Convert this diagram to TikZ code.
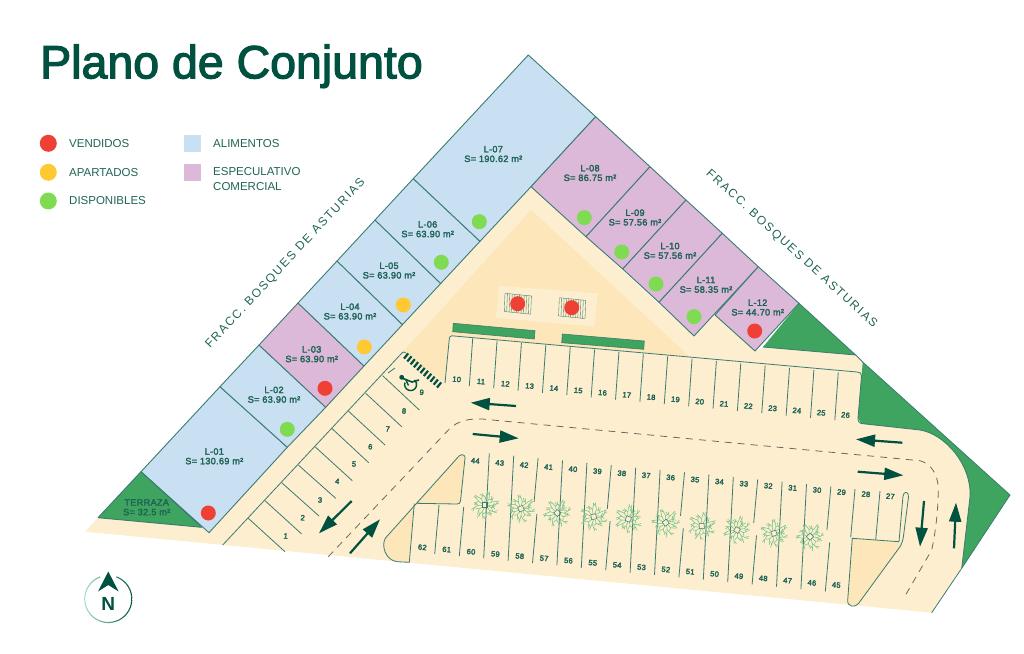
\documentclass[tikz,border=0pt]{standalone}
\usepackage{fontspec}
\usetikzlibrary{arrows.meta}
\setmainfont{Liberation Sans}
\newfontfamily\titlefont[FakeBold=2.6]{Liberation Sans}
\newfontfamily\lotfont[FakeBold=2.6,LetterSpace=3]{Liberation Sans}
\newfontfamily\numfont[FakeBold=3,LetterSpace=3]{Liberation Sans}
\newfontfamily\spacedfont[LetterSpace=14]{Liberation Sans}
\definecolor{tealdark}{HTML}{00513F}
\definecolor{tealtext}{HTML}{1F6456}
\definecolor{tealline}{HTML}{3A7C72}
\definecolor{lotblue}{HTML}{C9DFF2}
\definecolor{lotpurple}{HTML}{DCB8D9}
\definecolor{groundbeige}{HTML}{FCEECF}
\definecolor{deepbeige}{HTML}{FCE6BA}
\definecolor{parkgreen}{HTML}{3FA45F}
\definecolor{treegreen}{HTML}{6CC084}
\definecolor{dotred}{HTML}{EE4035}
\definecolor{dotyellow}{HTML}{FFC933}
\definecolor{dotgreen}{HTML}{7FDB51}
\definecolor{ringlight}{HTML}{A5E0C0}
\definecolor{roadgrey}{HTML}{6A6A5E}
\tikzset{
  x=1pt,y=-1pt,
  lotline/.style={draw=tealline,line width=0.9pt,line join=round},
  lotlabel/.style={font=\lotfont\fontsize{9.2}{9.6}\selectfont,text=tealtext,align=center,inner sep=0pt},
  stallno/.style={font=\numfont\fontsize{7.6}{8}\selectfont,text=tealtext,inner sep=0pt,rotate=-5},
  legendtext/.style={font=\fontsize{11.5}{15}\selectfont,text=tealtext,anchor=west,inner sep=0pt,align=left},
  statusdot/.style={circle,inner sep=0pt,minimum size=15pt},
  flowarrow/.style={draw=tealdark,line width=2.2pt,-{Triangle[length=19pt,width=12pt]}},
  sidelabel/.style={font=\spacedfont\fontsize{12}{12}\selectfont,text=tealtext,inner sep=0pt},
  stallline/.style={draw=tealline,line width=0.8pt},
}
\newcommand{\treeat}[3]{%
  \begin{scope}[shift={(#1,#2)},rotate=#3,line width=0.5pt,treegreen,line cap=round]
    \foreach \a/\b/\c in {0/14/10,32/11/14,63/14/8,95/12/13,128/14/9,158/11/13,190/14/10,222/12/9,254/14/14,286/11/8,318/14/12,345/10/9}{
      \begin{scope}[rotate=\a]
        \draw (3,0) -- (7,1) -- (\b,-2);
        \draw (7,1) -- (\c,4);
        \draw (\b-3,-1) -- (\b-1,-4);
      \end{scope}
    }
    \draw[tealline,line width=0.5pt] (-2.5,-2.5) rectangle (2.5,2.5);
  \end{scope}}
\begin{document}
\begin{tikzpicture}
\useasboundingbox (0,0) rectangle (1024,653);
% ground
\fill[groundbeige] (85,531.7) -- (98,517.7) -- (201.7,527.3) -- (209,532.7) -- (531,186.7) -- (694,336) -- (715,315) -- (755,351) -- (763,347) -- (855.7,355) -- (862.7,362) -- (858,418) -- (861,423.5) -- (920,430) .. controls (945,434) and (972,465) .. (970,497) -- (961.7,568.3) -- (931.7,612.7) -- cycle;
% green areas
\path[fill=parkgreen] (799,303.3) -- (855.7,355) -- (763,347) -- cycle;
\path[fill=parkgreen] (862.7,362) -- (1010,495) -- (961.7,568.3) -- (970,497) .. controls (972,465) and (945,434) .. (920,430) -- (861,423.5) -- (858,418) -- cycle;
\draw[tealline,line width=0.8pt] (799,303.3) -- (855.7,355) (862.7,362) -- (1010,495) -- (961.7,568.3);
\draw[tealline,line width=0.8pt] (763,347) -- (855.7,355) -- (862.7,362);
\draw[tealline,line width=0.8pt] (961.7,568.3) -- (970,497) .. controls (972,465) and (945,434) .. (920,430) -- (861,423.5);
\draw[tealline,line width=0.8pt] (961.7,568.3) -- (931.7,612.7);
% inner darker area
\fill[deepbeige] (531,210) -- (690,357) -- (452,335.7) .. controls (449,335.5) and (449.5,337) .. (449.3,339) -- (445,383) -- (403.3,351.7) -- cycle;
% lots
\path[fill=lotblue,lotline] (141,471.7) -- (220,386.7) -- (287.3,447.3) -- (209,532.7) -- cycle;
\path[fill=lotblue,lotline] (220,386.7) -- (259,345) -- (325.7,407.3) -- (287.3,447.3) -- cycle;
\path[fill=lotpurple,lotline] (259,345) -- (298,303) -- (364,366) -- (325.7,407.3) -- cycle;
\path[fill=lotblue,lotline] (298,303) -- (337,261) -- (402.5,324.6) -- (364,366) -- cycle;
\path[fill=lotblue,lotline] (337,261) -- (375,220) -- (440.7,283.5) -- (402.5,324.6) -- cycle;
\path[fill=lotblue,lotline] (375,220) -- (413.3,178.6) -- (480,241.3) -- (440.7,283.5) -- cycle;
\path[fill=lotblue,lotline] (413.3,178.6) -- (528.3,55) -- (595.7,116.7) -- (531,186.7) -- (480,241.3) -- cycle;
\path[fill=lotpurple,lotline] (595.7,116.7) -- (650,166.7) -- (586,236.7) -- (531,186.7) -- cycle;
\path[fill=lotpurple,lotline] (650,166.7) -- (686,200) -- (622.7,269) -- (586,236.7) -- cycle;
\path[fill=lotpurple,lotline] (686,200) -- (722.3,233.3) -- (659,302.3) -- (622.7,269) -- cycle;
\path[fill=lotpurple,lotline] (722.3,233.3) -- (758.3,266.7) -- (694,336) -- (659,302.3) -- cycle;
\path[fill=lotpurple,lotline] (758.3,266.7) -- (799,303.3) -- (755,351) -- (715,315) -- cycle;
% terraza
\path[fill=parkgreen,lotline] (141,471.7) -- (201.7,527.3) -- (98,517.7) -- cycle;
% plaza
\fill[groundbeige] (499,285.7) -- (597.7,293.3) -- (594.3,326.7) -- (496,317.7) -- cycle;
\foreach \xa/\ya/\xb/\yb in {505/293.3/504.3/311.7,559.3/297.7/558.3/316}{
  \begin{scope}[shift={(\xa,\ya)}]
    \foreach \i in {0,2.4,...,26.5}{
      \draw[tealline,line width=0.35pt] (\i,{\i*0.1}) -- ({\i-0.7},{18.2+\i*0.1});
    }
    \draw[tealline,line width=0.35pt] (0,0) -- (26.6,2.7) (-0.7,18.2) -- (25.9,20.9);
  \end{scope}
}
\fill[parkgreen] (453.3,323.3) -- (535,330.7) -- (534.3,339) -- (452.7,331.7) -- cycle;
\fill[parkgreen] (562.3,334) -- (644.3,341) -- (643.7,349.3) -- (561.7,342.7) -- cycle;
\draw[tealline,line width=0.6pt] (453.3,323.3) -- (535,330.7) -- (534.3,339) -- (452.7,331.7) -- cycle;
\draw[tealline,line width=0.6pt] (562.3,334) -- (644.3,341) -- (643.7,349.3) -- (561.7,342.7) -- cycle;
% parking outline
\draw[stallline] (222.7,545) -- (401,354) .. controls (403,351.5) and (404,351.5) .. (406,353);
\draw[stallline] (445,383) -- (449.3,339) .. controls (449.5,337) and (450,335.7) .. (452,335.8) -- (857,372) .. controls (860,372.3) and (861.7,373) .. (861.5,376) -- (858,418) .. controls (858,421.5) and (859,423) .. (861,423.5);
% top row dividers
\foreach \i in {0,...,15}{
  \draw[stallline] ({472.7+24.37*\i},{338.3+2.27*\i}) -- ({469.3+24.37*\i},{386+2.27*\i});
}
% left dividers
\foreach \xa/\ya/\xb/\yb in {248.3/518.3/285/551.7,265/500.7/301.7/534,281.7/482.7/319/516,298.3/465/335.7/498.3,315/446.7/352.3/480.7,331.7/428.3/368.7/462.7,348.3/411/385/445,365.7/393.3/401.7/426.7,382.7/375.7/419.3/410}{
  \draw[stallline] (\xa,\ya) -- (\xb,\yb);
}
\draw[stallline] (388,373) -- (395,368);
% lower row dividers
\foreach \k in {1,2,4,5,7,8,10,11,13,14}{
  \draw[stallline] ({489.3+24.4*(\k-1)},{453.3+2.37*(\k-1)}) -- ({483.7+24.4*(\k-1)},{558.3+2.37*(\k-1)});
}
\foreach \k in {3,6,9,12,15}{
  \draw[stallline] ({489.3+24.4*(\k-1)},{453.3+2.37*(\k-1)}) -- ({485.3+24.4*(\k-1)},{497+2.37*(\k-1)});
  \draw[stallline] ({488.1+24.4*(\k-1)},{509.3+2.37*(\k-1)}) -- ({483.7+24.4*(\k-1)},{558.3+2.37*(\k-1)});
}
\draw[stallline] (463.7,506.9) -- (459.3,556);
\draw[stallline] (439,505) -- (434.7,554);
\draw[stallline] (855,489) -- (850.7,537.3);
\draw[stallline] (880,491) -- (875.7,540);
% left island
\path[fill=deepbeige] (416,503.3) -- (459,456) .. controls (462,453.5) and (465.5,455) .. (465,458) -- (460.5,501) .. controls (460,503.5) and (459,504) .. (457,504) -- cycle;
\path[fill=deepbeige] (414,505) -- (385.5,538) .. controls (381,545) and (385,560) .. (397,561.7) -- (409.3,562.3) -- cycle;
\draw[stallline] (409.3,562.3) -- (414.3,503.5);
\draw[stallline] (409.3,562.3) -- (397,561.7) .. controls (385,560) and (381,545) .. (385.5,538) -- (459,456) .. controls (462,453.5) and (465.5,455) .. (465,458) -- (460.5,501) .. controls (460,503.5) and (459,504) .. (457,504) -- (416,503.3);
% right island
\path[fill=deepbeige] (852.3,538.3) -- (899,541.7) -- (900.5,546) -- (858.5,603.5) .. controls (855,608) and (847,607) .. (847.7,600) -- cycle;
\draw[stallline] (899,541.7) -- (852.3,538.3) -- (847.7,600) .. controls (847,607) and (855,608) .. (858.5,603.5) -- (900.5,546) .. controls (902,543) and (903,540) .. (903.5,536) -- (908.5,497) .. controls (909,491) and (903.5,491) .. (903,496) -- (899,541.7);
% centre line
\draw[roadgrey,line width=0.8pt,dash pattern=on 7pt off 6pt] (328.3,556.7) -- (450,428.3) .. controls (458,421) and (468,418.5) .. (482,419) -- (920,460.7) .. controls (932,464) and (938.5,476) .. (938.3,490) .. controls (938,510) and (936,530) .. (931.7,550) -- (905,596);
% arrows
\draw[flowarrow] (516,406) -- (470.7,402.7);
\draw[flowarrow] (472.7,434) -- (518.7,438.3);
\draw[flowarrow] (902.3,442.7) -- (856,439.3);
\draw[flowarrow] (857.7,471.7) -- (903.3,475.3);
\draw[flowarrow] (924,501) -- (920,546.7);
\draw[flowarrow] (954,548.3) -- (956,502.7);
\draw[flowarrow] (351.7,501) -- (319,533.3);
\draw[flowarrow] (350,553.3) -- (380,519.3);
% accessible bay
\foreach \i in {0,...,10}{
  \draw[tealdark,line width=2.2pt] ({406+3.3*\i-2},{356+2.9*\i+2.6}) -- ({406+3.3*\i+2.2},{356+2.9*\i-2.6});
}
\fill[tealdark] (401.7,377.3) circle (2.4pt);
\draw[tealdark,line width=1.6pt,line join=round] (401.7,378) -- (412,382) -- (419,380);
\draw[tealdark,line width=1.4pt] (405.5,379) -- (408.5,385.5);
\draw[tealdark,line width=1.4pt] (405,382.5) arc[start angle=200,end angle=-50,x radius=6,y radius=6];
% trees
\treeat{485}{505}{0}
\treeat{521}{508.7}{24}
\treeat{557.3}{513}{50}
\treeat{593.7}{516.7}{12}
\treeat{628.3}{519}{70}
\treeat{665.7}{522.7}{35}
\treeat{701.7}{526}{5}
\treeat{737}{530}{60}
\treeat{774}{533.3}{18}
\treeat{810}{536.7}{42}
% dots
\foreach \n/\xx/\yy/\cc in {d01/208.3/513/dotred,d02/287.3/429.3/dotgreen,d03/325/388.3/dotred,d04/364.3/347/dotyellow,d05/403.3/305/dotyellow,d06/441.3/262.3/dotgreen,d07/479.3/221.7/dotgreen,d08/584.3/217.7/dotgreen,d09/621.7/252/dotgreen,d10/656/284/dotgreen,d11/694/316.7/dotgreen,d12/754.7/331/dotred,p1/517.7/303.7/dotred,p2/571.7/307.7/dotred}{
  \node[statusdot,fill=\cc] (\n) at (\xx,\yy) {};
}
% lot labels
\foreach \n/\xx/\yy/\ta/\tb in {1/214.3/456.3/L-01/130.69,2/274/394.7/L-02/63.90,3/311.7/354.2/L-03/63.90,4/350/311.5/L-04/63.90,5/389/270.5/L-05/63.90,6/427.7/229.2/L-06/63.90,7/493.3/154/L-07/190.62,8/590/173/L-08/86.75,9/635/217.5/L-09/57.56,10/670/250.8/L-10/57.56,11/706/284.8/L-11/58.35,12/757.7/307.5/L-12/44.70}{
  \node[lotlabel] (lot\n) at (\xx,\yy) {\ta\\S= \tb\ m²};
}
\node[lotlabel] (terraza) at (146.7,507.3) {TERRAZA\\S= 32.5 m²};
% stall numbers
\foreach \i in {10,...,26}{
  \node[stallno] (st\i) at ({456.7+24.3*(\i-10)},{379.3+2.23*(\i-10)}) {\i};
}
\foreach \i in {27,...,44}{
  \node[stallno] (st\i) at ({890.3-24.41*(\i-27)},{496.3-2.09*(\i-27)}) {\i};
}
\foreach \i in {45,...,62}{
  \node[stallno] (st\i) at ({836.3-24.35*(\i-45)},{585-2.22*(\i-45)}) {\i};
}
\foreach \i/\xx/\yy in {1/285.7/536,2/302.7/517.7,3/320/500,4/337.3/481.3,5/354/464,6/370.3/446.7,7/387.7/429,8/404/411,9/421.7/392.3}{
  \node[stallno] (st\i) at (\xx,\yy) {\i};
}
% side labels
\node[sidelabel,rotate=47] (fraccleft) at (285.5,263.5) {FRACC. BOSQUES DE ASTURIAS};
\node[sidelabel,rotate=-42.5] (fraccright) at (791.5,249) {FRACC. BOSQUES DE ASTURIAS};
% title
\node[anchor=base west,inner sep=0pt,text=tealdark,font=\titlefont\fontsize{46.5}{46.5}\selectfont] (title) at (40,78.3) {Plano de Conjunto};
% legend
\node[statusdot,minimum size=17pt,fill=dotred] (legr) at (48.3,143.3) {};
\node[statusdot,minimum size=17pt,fill=dotyellow] (legy) at (48.3,172.3) {};
\node[statusdot,minimum size=17pt,fill=dotgreen] (legg) at (48.3,201) {};
\node[legendtext] (tr) at (69,143.3) {VENDIDOS};
\node[legendtext] (ty) at (69,172.3) {APARTADOS};
\node[legendtext] (tg) at (69,201) {DISPONIBLES};
\node[inner sep=0pt,minimum size=17pt,fill=lotblue] (legb) at (192.5,143.5) {};
\node[inner sep=0pt,minimum size=17pt,fill=lotpurple] (legp) at (192.5,172.5) {};
\node[legendtext] (tb) at (213,143.3) {ALIMENTOS};
\node[legendtext,anchor=north west] (tp) at (213,167) {ESPECULATIVO\\COMERCIAL};
% compass
\begin{scope}[shift={(108.3,599)}]
  \foreach \a in {290,294,...,606}{
    \pgfmathsetmacro{\pp}{50+50*cos(\a+2)}
    \draw[tealdark!\pp!ringlight,line width=1.1pt] (\a:23.5) -- (\a+4:23.5);
  }
  \fill[tealdark] (0,-27.5) -- (10.3,-7.5) -- (0,-14) -- (-10.3,-7.5) -- cycle;
\end{scope}
\node[font=\bfseries\fontsize{19}{19}\selectfont,text=tealdark,inner sep=0pt] (north) at (108.3,603.5) {N};
\end{tikzpicture}
\end{document}
